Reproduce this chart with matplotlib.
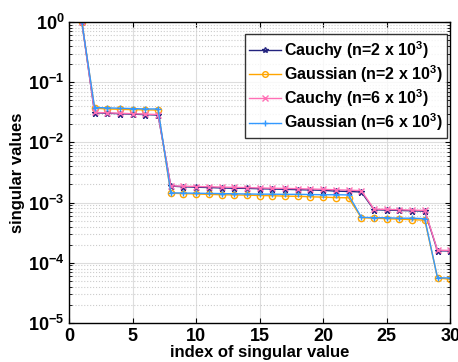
import numpy as np
import matplotlib.pyplot as plt

# singular values (index 1..30)
idx = np.arange(1, 31)
cauchy_2k = [1.0, 0.0312, 0.0305, 0.030, 0.0295, 0.029, 0.0285,
             0.00188, 0.00183, 0.00180, 0.00178, 0.00175, 0.00173, 0.00172, 0.00170,
             0.00168, 0.00166, 0.00164, 0.00162, 0.00160, 0.00155, 0.00153, 0.00150,
             0.00076, 0.00075, 0.00074, 0.00073, 0.00072, 0.000158, 0.000157]
gauss_2k = [1.0, 0.037, 0.036, 0.0355, 0.035, 0.0348, 0.0345,
            0.00143, 0.00141, 0.00139, 0.00137, 0.00135, 0.00134, 0.00133, 0.00131,
            0.00130, 0.00128, 0.00127, 0.00125, 0.00123, 0.00121, 0.00120, 0.00056,
            0.00055, 0.00054, 0.00053, 0.00052, 0.00051, 5.6e-5, 5.3e-5]
cauchy_6k = [1.0, 0.0315, 0.031, 0.0305, 0.030, 0.0295, 0.029,
             0.00190, 0.00187, 0.00185, 0.00183, 0.00181, 0.00179, 0.00177, 0.00175,
             0.00173, 0.00172, 0.00170, 0.00168, 0.00166, 0.00163, 0.00161, 0.00158,
             0.00078, 0.00077, 0.00076, 0.00075, 0.00074, 0.000162, 0.000160]
gauss_6k = [1.0, 0.038, 0.0375, 0.037, 0.0365, 0.036, 0.036,
            0.00145, 0.00144, 0.00143, 0.00142, 0.00141, 0.00140, 0.00139, 0.00138,
            0.00138, 0.00137, 0.00137, 0.00136, 0.00135, 0.00135, 0.00134, 0.00057,
            0.00056, 0.00056, 0.00055, 0.00055, 0.00054, 5.6e-5, 5.6e-5]

labels = [r'Cauchy (n=2 x 10$^{\mathbf{3}}$)', r'Gaussian (n=2 x 10$^{\mathbf{3}}$)',
          r'Cauchy (n=6 x 10$^{\mathbf{3}}$)', r'Gaussian (n=6 x 10$^{\mathbf{3}}$)']
colors = ['#23237e', '#ffa500', '#ff6fb5', '#3399ff']
markers = ['*', 'o', 'x', '+']

plt.rcParams['font.family'] = ['Liberation Sans', 'DejaVu Sans']
plt.rcParams['font.weight'] = 'bold'
plt.rcParams['mathtext.fontset'] = 'custom'
plt.rcParams['mathtext.rm'] = 'Liberation Sans:bold'
plt.rcParams['mathtext.bf'] = 'Liberation Sans:bold'

fig = plt.figure(figsize=(4.58, 3.62), dpi=100)
ax = fig.add_axes([0.151, 0.108, 0.832, 0.831])

for ys, c, m, lab in zip([cauchy_2k, gauss_2k, cauchy_6k, gauss_6k], colors, markers, labels):
    ax.semilogy(idx, ys, color=c, marker=m, markersize=4.5, markerfacecolor='none',
                linewidth=1.0, label=lab)

ax.set_xlim(0, 30)
ax.set_ylim(1e-5, 1)
ax.set_xticks([0, 5, 10, 15, 20, 25, 30])
ax.grid(True, which='major', color='#dddddd', linewidth=0.8)
ax.grid(True, which='minor', axis='y', color='#cccccc', linestyle=':', linewidth=0.8)
ax.set_axisbelow(True)
ax.tick_params(which='both', direction='in', top=True, right=True, labelsize=13)
for s in ax.spines.values():
    s.set_linewidth(1.0)

ax.set_xlabel('index of singular value', fontsize=12, fontweight='bold', labelpad=0)
ax.set_ylabel('singular values', fontsize=12, fontweight='bold', labelpad=2)

leg = ax.legend(loc='upper right', bbox_to_anchor=(1.005, 0.975), fontsize=11.5,
                frameon=True, fancybox=False, edgecolor='black', handlelength=2.0,
                handletextpad=0.15, borderpad=0.3, labelspacing=0.15, borderaxespad=0.3,
                markerscale=0.9)
leg.get_frame().set_linewidth(1.0)

fig.savefig('out.png', dpi=100)
